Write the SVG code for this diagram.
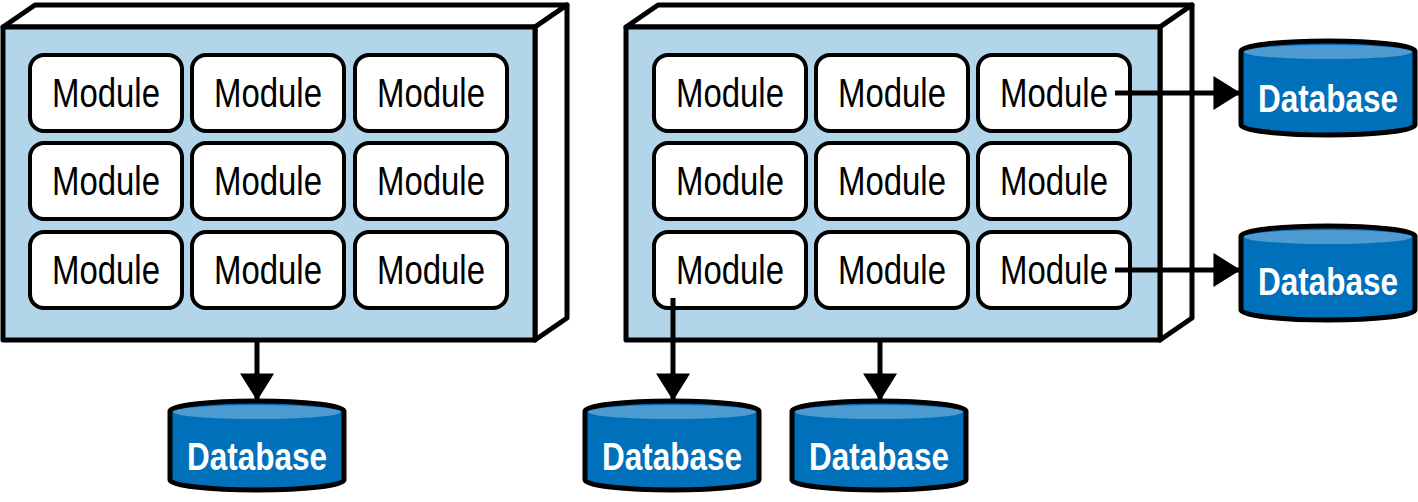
<svg xmlns="http://www.w3.org/2000/svg" width="1418" height="502" viewBox="0 0 1418 502">
<defs>
<style>
.box{fill:#b3d5ea;stroke:#000;stroke-width:5;stroke-linejoin:round}
.side{fill:#fff;stroke:#000;stroke-width:5;stroke-linejoin:round}
.mod rect{fill:#fff;stroke:#000;stroke-width:4}
.mod text{font-family:"Liberation Sans",sans-serif;font-size:40px;text-anchor:middle}
.db path{fill:#0070bb;stroke:#000;stroke-width:5}
.db ellipse{fill:#4d9bd1}
.db text{font-family:"Liberation Sans",sans-serif;font-size:39px;font-weight:bold;fill:#fff;text-anchor:middle}
.conn line{stroke:#000;stroke-width:5}
</style>
<marker id="ah" markerWidth="8" markerHeight="8" refX="7.5" refY="4" orient="auto" markerUnits="userSpaceOnUse" viewBox="0 0 8 8" overflow="visible">
<path d="M-3,-1 L5,4 L-3,9 Z" transform="scale(3.4) translate(-2.6,-2.85)" fill="#000"/>
</marker>
</defs>
<g id="mono">
<path class="side" d="M3,27 L35,5 L567,5 L535,27 Z"/>
<path class="side" d="M535,27 L567,5 L567,318 L535,340 Z"/>
<rect class="box" x="3" y="27" width="532" height="313"/>
</g>
<g id="modular">
<path class="side" d="M626,27 L658,5 L1192,5 L1160,27 Z"/>
<path class="side" d="M1160,27 L1192,5 L1192,318 L1160,340 Z"/>
<rect class="box" x="626" y="27" width="534" height="313"/>
</g>
<g class="mod">
<g id="l11"><rect x="30" y="55" width="152" height="76" rx="14"/><text x="106" y="107" textLength="108" lengthAdjust="spacingAndGlyphs">Module</text></g>
<g id="l12"><rect x="192" y="55" width="152" height="76" rx="14"/><text x="268" y="107" textLength="108" lengthAdjust="spacingAndGlyphs">Module</text></g>
<g id="l13"><rect x="355" y="55" width="152" height="76" rx="14"/><text x="431" y="107" textLength="108" lengthAdjust="spacingAndGlyphs">Module</text></g>
<g id="l21"><rect x="30" y="143" width="152" height="76" rx="14"/><text x="106" y="195" textLength="108" lengthAdjust="spacingAndGlyphs">Module</text></g>
<g id="l22"><rect x="192" y="143" width="152" height="76" rx="14"/><text x="268" y="195" textLength="108" lengthAdjust="spacingAndGlyphs">Module</text></g>
<g id="l23"><rect x="355" y="143" width="152" height="76" rx="14"/><text x="431" y="195" textLength="108" lengthAdjust="spacingAndGlyphs">Module</text></g>
<g id="l31"><rect x="30" y="232" width="152" height="76" rx="14"/><text x="106" y="284" textLength="108" lengthAdjust="spacingAndGlyphs">Module</text></g>
<g id="l32"><rect x="192" y="232" width="152" height="76" rx="14"/><text x="268" y="284" textLength="108" lengthAdjust="spacingAndGlyphs">Module</text></g>
<g id="l33"><rect x="355" y="232" width="152" height="76" rx="14"/><text x="431" y="284" textLength="108" lengthAdjust="spacingAndGlyphs">Module</text></g>
<g id="r11"><rect x="654" y="55" width="152" height="76" rx="14"/><text x="730" y="107" textLength="108" lengthAdjust="spacingAndGlyphs">Module</text></g>
<g id="r12"><rect x="816" y="55" width="152" height="76" rx="14"/><text x="892" y="107" textLength="108" lengthAdjust="spacingAndGlyphs">Module</text></g>
<g id="r13"><rect x="978" y="55" width="152" height="76" rx="14"/><text x="1054" y="107" textLength="108" lengthAdjust="spacingAndGlyphs">Module</text></g>
<g id="r21"><rect x="654" y="143" width="152" height="76" rx="14"/><text x="730" y="195" textLength="108" lengthAdjust="spacingAndGlyphs">Module</text></g>
<g id="r22"><rect x="816" y="143" width="152" height="76" rx="14"/><text x="892" y="195" textLength="108" lengthAdjust="spacingAndGlyphs">Module</text></g>
<g id="r23"><rect x="978" y="143" width="152" height="76" rx="14"/><text x="1054" y="195" textLength="108" lengthAdjust="spacingAndGlyphs">Module</text></g>
<g id="r31"><rect x="654" y="232" width="152" height="76" rx="14"/><text x="730" y="284" textLength="108" lengthAdjust="spacingAndGlyphs">Module</text></g>
<g id="r32"><rect x="816" y="232" width="152" height="76" rx="14"/><text x="892" y="284" textLength="108" lengthAdjust="spacingAndGlyphs">Module</text></g>
<g id="r33"><rect x="978" y="232" width="152" height="76" rx="14"/><text x="1054" y="284" textLength="108" lengthAdjust="spacingAndGlyphs">Module</text></g>
</g>
<g class="db">
<g id="db1"><path d="M170,411 A87,10 0 0 1 344,411 V480 A87,10 0 0 1 170,480 Z"/><ellipse cx="257" cy="412" rx="84" ry="7"/><text x="257" y="470" textLength="140" lengthAdjust="spacingAndGlyphs">Database</text></g>
<g id="db2"><path d="M585,411 A87,10 0 0 1 759,411 V480 A87,10 0 0 1 585,480 Z"/><ellipse cx="672" cy="412" rx="84" ry="7"/><text x="672" y="470" textLength="140" lengthAdjust="spacingAndGlyphs">Database</text></g>
<g id="db3"><path d="M792,411 A87,10 0 0 1 966,411 V480 A87,10 0 0 1 792,480 Z"/><ellipse cx="879" cy="412" rx="84" ry="7"/><text x="879" y="470" textLength="140" lengthAdjust="spacingAndGlyphs">Database</text></g>
<g id="db4"><path d="M1241,51 A87,10 0 0 1 1415,51 V125 A87,10 0 0 1 1241,125 Z"/><ellipse cx="1328" cy="52" rx="84" ry="7"/><text x="1328" y="112" textLength="140" lengthAdjust="spacingAndGlyphs">Database</text></g>
<g id="db5"><path d="M1241,236 A87,10 0 0 1 1415,236 V310 A87,10 0 0 1 1241,310 Z"/><ellipse cx="1328" cy="237" rx="84" ry="7"/><text x="1328" y="295" textLength="140" lengthAdjust="spacingAndGlyphs">Database</text></g>
</g>
<g class="conn">
<line x1="257" y1="340" x2="257" y2="400" marker-end="url(#ah)"/>
<line x1="673" y1="298" x2="673" y2="400" marker-end="url(#ah)"/>
<line x1="880" y1="340" x2="880" y2="400" marker-end="url(#ah)"/>
<line x1="1115" y1="93" x2="1240" y2="93" marker-end="url(#ah)"/>
<line x1="1115" y1="270" x2="1240" y2="270" marker-end="url(#ah)"/>
</g>
</svg>
